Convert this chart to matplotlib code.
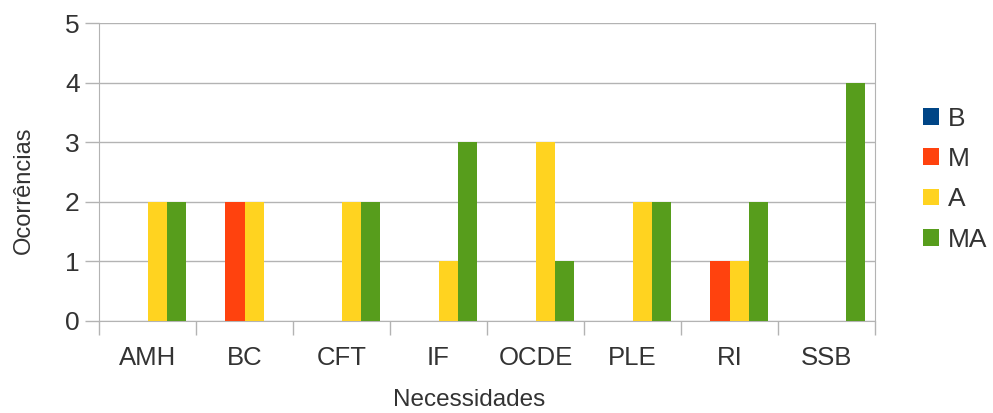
import numpy as np
import matplotlib.pyplot as plt

plt.rcParams['font.family'] = ['Liberation Sans', 'DejaVu Sans']

categorias = ["AMH", "BC", "CFT", "IF", "OCDE", "PLE", "RI", "SSB"]
series = ["B", "M", "A", "MA"]
valores_B = [0, 0, 0, 0, 0, 0, 0, 0]
valores_M = [0, 2, 0, 0, 0, 0, 1, 0]
valores_A = [2, 2, 2, 1, 3, 2, 1, 0]
valores_MA = [2, 0, 2, 3, 1, 2, 2, 4]
cores = ["#004586", "#ff420e", "#ffd320", "#579d1c"]

fig = plt.figure(figsize=(9.93, 4.13), dpi=100)
ax = fig.add_axes([0.0997, 0.2228, 0.7815, 0.7215])

x = np.arange(len(categorias)) + 0.5
largura = 0.2
for i, (nome, vals) in enumerate(zip(series, [valores_B, valores_M, valores_A, valores_MA])):
    ax.bar(x + (i - 1.5) * largura, vals, width=largura, color=cores[i], label=nome,
           linewidth=0, zorder=3)

cinza = "#b3b3b3"
ax.set_xlim(0, len(categorias))
ax.set_ylim(0, 5)
ax.set_yticks(range(6))
ax.yaxis.grid(True, color=cinza, lw=1)
ax.set_axisbelow(True)
ax.set_xticks(np.arange(len(categorias) + 1))
ax.set_xticklabels([])
ax.set_xticks(x, minor=True)
ax.set_xticklabels(categorias, minor=True)
ax.tick_params(axis="x", which="major", length=10, color=cinza, width=1)
ax.tick_params(axis="x", which="minor", length=0, pad=18, labelsize=18.5, labelcolor="#333333")
ax.tick_params(axis="y", length=10, color=cinza, width=1, labelsize=19, labelcolor="#333333", pad=4)
for lado in ["left", "right", "bottom"]:
    ax.spines[lado].set_color(cinza)
ax.spines["top"].set_visible(False)

# rótulos dos eixos um pouco deslocados, como no original
ax.set_xlabel("Necessidades", fontsize=17.5, color="#333333", va="center")
ax.set_ylabel("Ocorrências", fontsize=17, color="#333333", va="center")
ax.xaxis.set_label_coords(0.477, -0.265)
ax.yaxis.set_label_coords(-0.097, 0.44)

fig.legend(loc="center left", bbox_to_anchor=(0.919, 0.566), frameon=False, fontsize=19,
           handlelength=0.6, handleheight=0.6, handletextpad=0.35, labelspacing=0.62,
           labelcolor="#333333", borderaxespad=0)

fig.savefig("out.png", dpi=100)
